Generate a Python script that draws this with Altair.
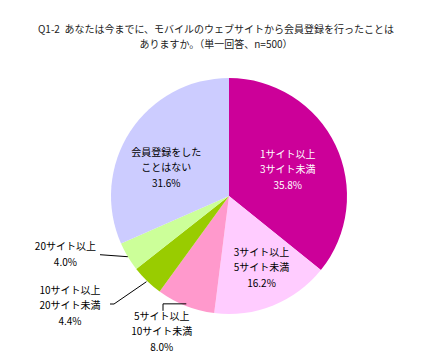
import altair as alt
import pandas as pd
import numpy as np

# ---- data ----
categories = ["1サイト以上\n3サイト未満", "3サイト以上\n5サイト未満", "5サイト以上\n10サイト未満",
              "10サイト以上\n20サイト未満", "20サイト以上", "会員登録をした\nことはない"]
values = [35.8, 16.2, 8.0, 4.4, 4.0, 31.6]
colors = ["#CC0099", "#FFCCFF", "#FF99CC", "#99CC00", "#CCFF99", "#CCCCFF"]
title_lines = ["Q1-2\u00a0\u00a0あなたは今までに、モバイルのウェブサイトから会員登録を行ったことは",
               "ありますか。（単一回答、n=500）"]

# ---- layout (style) ----
W, H = 423, 351
CX, CY = 221, 188
R = 118
FONT = "Noto Sans CJK JP"
LH = 15.5
# per-slice label radius and extra shift (dx, dy)
label_r = [64, 79, 150, 150, 115, 69]
label_shift = [(1, 2), (3, -1), (-12, -3), (-55, 2), (-65, 0), (-5, 10)]
label_color = ["white", "black", "black", "black", "black", "black"]

df = pd.DataFrame({"cat": categories, "value": values, "order": range(len(values))})

# label positions from cumulative angles, one row per text line
cum = np.cumsum(values)
mid = (cum - np.array(values) / 2) / cum[-1] * 2 * np.pi
lab_rows = []
for i, c in enumerate(categories):
    x = CX + label_r[i] * np.sin(mid[i]) + label_shift[i][0]
    y = CY - label_r[i] * np.cos(mid[i]) + label_shift[i][1]
    lines = c.split("\n") + [f"{values[i]:.1f}%"]
    n = len(lines)
    for j, ln in enumerate(lines):
        lab_rows.append({"text": ln, "x": x, "y": y + (j - (n - 1) / 2) * LH, "col": label_color[i]})
lab_df = pd.DataFrame(lab_rows)

# leader lines: edge point at mid-angle, then bends (relative to centre)
lead_rows = []
def edge(i, r=R):
    return CX + r * np.sin(mid[i]), CY - r * np.cos(mid[i])
ex, ey = edge(2, 116)
for k, (px, py) in enumerate([(ex, ey), (CX - 66, ey), (CX - 66, ey + 7)]):
    lead_rows.append({"g": "a", "k": k, "x": px, "y": py})
ex, ey = edge(3, 119)
for k, (px, py) in enumerate([(ex, ey), (CX - 115, CY + 108), (CX - 119, CY + 108)]):
    lead_rows.append({"g": "b", "k": k, "x": px, "y": py})
ex, ey = edge(4, 118)
for k, (px, py) in enumerate([(ex, ey), (CX - 129, ey - 2)]):
    lead_rows.append({"g": "c", "k": k, "x": px, "y": py})
lead_df = pd.DataFrame(lead_rows)

pie = alt.Chart(df).mark_arc(outerRadius=R, stroke=None).encode(
    theta=alt.Theta("value:Q", stack=True),
    order=alt.Order("order:Q"),
    color=alt.Color("cat:N", scale=alt.Scale(domain=categories, range=colors), legend=None),
    x=alt.value(CX), y=alt.value(CY),
)

labels = alt.Chart(lab_df).mark_text(font=FONT, fontSize=10, align="center", baseline="middle").encode(
    x=alt.X("x:Q", scale=None), y=alt.Y("y:Q", scale=None), text="text:N",
    color=alt.Color("col:N", scale=None),
)

leaders = alt.Chart(lead_df).mark_line(color="black", strokeWidth=1).encode(
    x=alt.X("x:Q", scale=None), y=alt.Y("y:Q", scale=None), detail="g:N", order="k:Q",
)

title_df = pd.DataFrame({"t": title_lines, "y": [22, 37]})
title = alt.Chart(title_df).mark_text(font=FONT, fontSize=10, align="center",
                                      baseline="middle", color="#222").encode(
    x=alt.value(208), y=alt.Y("y:Q", scale=None), text="t:N")

chart = alt.layer(pie, leaders, labels, title).properties(
    width=W, height=H, autosize="none", padding=0
).configure_view(stroke=None)

chart.save("out.html", embed_options={"renderer": "svg", "actions": False})
